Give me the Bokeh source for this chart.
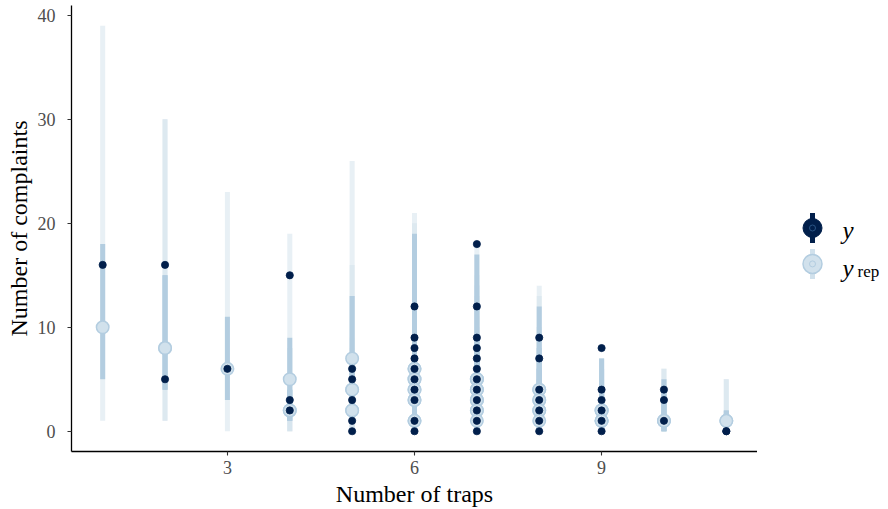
from bokeh.plotting import figure
from bokeh.models import Range1d, FixedTicker, ColumnDataSource
from bokeh.layouts import row
from bokeh.core.properties import value
from bokeh.embed import file_html
from bokeh.resources import INLINE

# ---- data (one record per observation) ----
traps = [1,
         2, 2,
         3,
         4, 4, 4,
         5, 5, 5, 5, 5,
         6, 6, 6, 6, 6, 6, 6, 6, 6, 6,
         7, 7, 7, 7, 7, 7, 7, 7, 7, 7, 7, 7,
         8, 8, 8, 8, 8, 8, 8,
         9, 9, 9, 9, 9, 9,
         10, 10, 10,
         11, 11]
y_obs = [16,
         16, 5,
         6,
         15, 3, 2,
         6, 5, 3, 1, 0,
         12, 9, 8, 7, 6, 5, 4, 3, 1, 0,
         18, 12, 9, 8, 7, 6, 5, 4, 3, 2, 1, 0,
         9, 7, 4, 3, 2, 1, 0,
         8, 4, 3, 2, 1, 0,
         4, 3, 1,
         0, 0]
yrep_median = [10,
               8, 8,
               6,
               5, 2, 2,
               7, 4, 4, 2, 2,
               6, 6, 5, 5, 4, 4, 3, 3, 1, 1,
               5, 5, 5, 4, 4, 4, 3, 3, 3, 2, 2, 1,
               4, 4, 3, 3, 2, 2, 1,
               2, 2, 2, 1, 1, 1,
               1, 1, 1,
               1, 1]
yrep_lo50 = [5,
             4, 4,
             3,
             1, 1, 1,
             4, 2, 2, 1, 1,
             3, 3, 2, 2, 2, 2, 1, 1, 0, 0,
             3, 3, 2, 2, 2, 2, 1, 1, 1, 1, 1, 0,
             2, 2, 1, 1, 1, 1, 0,
             1, 1, 1, 0, 0, 0,
             0, 0, 0,
             0, 0]
yrep_hi50 = [18,
             15, 15,
             11,
             9, 4, 4,
             13, 7, 7, 4, 4,
             19, 12, 10, 9, 8, 8, 6, 6, 3, 3,
             17, 9, 8, 7, 7, 7, 6, 5, 5, 4, 4, 3,
             12, 8, 6, 6, 5, 4, 3,
             7, 4, 4, 3, 3, 3,
             5, 4, 3,
             2, 2]
yrep_lo90 = [1,
             1, 1,
             0,
             0, 0, 0,
             1, 0, 0, 0, 0,
             1, 0, 0, 0, 0, 0, 0, 0, 0, 0,
             1, 1, 0, 0, 0, 0, 0, 0, 0, 0, 0, 0,
             0, 0, 0, 0, 0, 0, 0,
             0, 0, 0, 0, 0, 0,
             0, 0, 0,
             0, 0]
yrep_hi90 = [39,
             30, 30,
             23,
             19, 8, 8,
             26, 16, 13, 9, 8,
             21, 20, 18, 17, 15, 15, 12, 12, 7, 7,
             18, 15, 14, 14, 13, 13, 11, 10, 10, 8, 8, 6,
             14, 13, 10, 10, 9, 8, 6,
             7, 7, 7, 6, 6, 5,
             6, 6, 5,
             5, 5]
x_ticks = [3, 6, 9]
y_ticks = [0, 10, 20, 30, 40]
x_title = "Number of traps"
y_title = "Number of complaints"

DARK = "#011f4b"
LIGHT = "#d1e1ec"
MID = "#b3cde0"
FONT = "Liberation Serif"

src = ColumnDataSource(dict(traps=traps, y=y_obs, m=yrep_median,
                            l=yrep_lo50, h=yrep_hi50, ll=yrep_lo90, hh=yrep_hi90))

TOP, BOTTOM = 5, 57
H = 509
p = figure(width=757, height=H, x_range=Range1d(0.5, 11.5), y_range=Range1d(-1.95, 40.95),
           output_backend="svg", toolbar_location=None,
           min_border_left=71, min_border_right=0, min_border_top=TOP, min_border_bottom=BOTTOM)
p.background_fill_color = "white"
p.border_fill_color = "white"
p.outline_line_color = None
p.xgrid.visible = False
p.ygrid.visible = False

p.segment(x0="traps", y0="ll", x1="traps", y1="hh", source=src,
          line_color=LIGHT, line_alpha=0.5, line_width=5)
p.segment(x0="traps", y0="l", x1="traps", y1="h", source=src,
          line_color=MID, line_alpha=1.0, line_width=5)
p.scatter(x="traps", y="m", source=src, size=12.5, fill_color=LIGHT,
          line_color=MID, line_width=1.5)
p.scatter(x="traps", y="y", source=src, size=7.2, fill_color=DARK,
          line_color=DARK, line_width=0.8)

for ax in (p.xaxis[0], p.yaxis[0]):
    ax.axis_line_color = "black"
    ax.axis_line_width = 1.3
    ax.major_tick_line_color = "#333333"
    ax.major_tick_line_width = 1.1
    ax.major_tick_out = 4
    ax.major_tick_in = 0
    ax.minor_tick_line_color = None
    ax.major_label_text_font = FONT
    ax.major_label_text_font_size = "18px"
    ax.major_label_text_color = "#4d4d4d"
    ax.axis_label_text_font = FONT
    ax.axis_label_text_font_size = "24px"
    ax.axis_label_text_font_style = "normal"
    ax.axis_label_text_color = "black"

p.xaxis.ticker = FixedTicker(ticks=x_ticks)
p.yaxis.ticker = FixedTicker(ticks=y_ticks)
p.xaxis.major_label_standoff = 5
p.yaxis.major_label_standoff = 12
p.xaxis.axis_label = x_title
p.xaxis.axis_label_standoff = 4
p.yaxis.axis_label = y_title
p.yaxis.axis_label_standoff = 3

# ---- legend panel (coordinates = page pixels; frame aligned with main frame) ----
leg = figure(width=130, height=H, x_range=Range1d(757, 887), y_range=Range1d(452, TOP),
             output_backend="svg", toolbar_location=None,
             min_border_left=0, min_border_right=0,
             min_border_top=TOP, min_border_bottom=BOTTOM)
leg.axis.visible = False
leg.xgrid.visible = False
leg.ygrid.visible = False
leg.outline_line_color = None
leg.background_fill_color = "white"
leg.border_fill_color = "white"

leg.segment(x0=[812], y0=[213], x1=[812], y1=[243], line_color=DARK, line_width=5)
leg.scatter(x=[812], y=[228], size=19, fill_color=DARK, line_color=DARK, line_width=1)
leg.scatter(x=[812], y=[228], size=6, fill_color=DARK, line_color="#2a5585", line_width=1)
leg.segment(x0=[812], y0=[249], x1=[812], y1=[279], line_color=LIGHT, line_width=5)
leg.scatter(x=[812], y=[264], size=19, fill_color=LIGHT, line_color=MID, line_width=1.5)
leg.scatter(x=[812], y=[264], size=6, fill_color=LIGHT, line_color=MID, line_width=1)

leg.text(x=[842], y=[231], text=["y"], text_font=value(FONT), text_font_style="italic",
         text_font_size="25px", text_baseline="alphabetic", text_color="black")
leg.text(x=[842], y=[269], text=["y"], text_font=value(FONT), text_font_style="italic",
         text_font_size="25px", text_baseline="alphabetic", text_color="black")
leg.text(x=[857], y=[272], text=["rep"], text_font=value(FONT),
         text_font_size="17px", text_baseline="alphabetic", text_color="black")

layout = row(p, leg)
open("out.html", "w").write(file_html(layout, INLINE))
